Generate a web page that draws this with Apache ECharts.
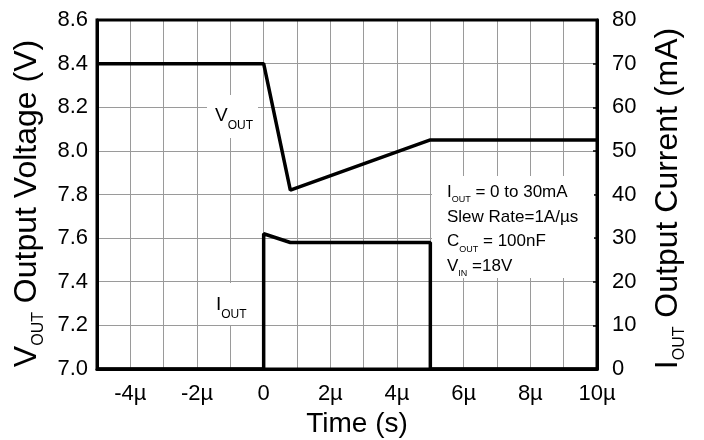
<!DOCTYPE html>
<html><head><meta charset="utf-8">
<script src="https://cdn.jsdelivr.net/npm/echarts@6/dist/echarts.min.js"></script>
<style>html,body{margin:0;padding:0;background:#fff}#c{width:704px;height:440px}</style>
</head><body><div id="c"></div>
<script>
// Data (time in microseconds)
const voutTime = [-5, 0, 0.8, 5, 10];
const voutVal  = [8.4, 8.4, 7.82, 8.05, 8.05];
const ioutTime = [-5, 0, 0, 0.8, 5, 5, 10];
const ioutVal  = [0, 0, 31, 29, 29, 0, 0];
const xMin = -5, xMax = 10, xStep = 1;
const vMin = 7.0, vMax = 8.6, vStep = 0.2;
const iMin = 0, iMax = 80, iStep = 10;

const FONT = 'Liberation Sans, Arial, Helvetica, sans-serif';
const chart = echarts.init(document.getElementById('c'));
const main = (fs, lh) => ({fontSize: fs, fontFamily: FONT, color: '#000', lineHeight: lh});
const sub = (fs, pad) => ({fontSize: fs, fontFamily: FONT, color: '#000', lineHeight: fs, padding: [pad, 0, 0, 0]});

chart.setOption({
  animation: false,
  backgroundColor: '#fff',
  grid: {left: 97, right: 107, top: 20, bottom: 71, outerBoundsMode: 'none', containLabel: false,
         show: true, borderColor: '#000', borderWidth: 3, backgroundColor: 'transparent', z: 3},
  xAxis: {
    type: 'value', min: xMin, max: xMax, interval: xStep,
    axisLine: {show: true, onZero: false, lineStyle: {color: '#000', width: 3}},
    axisTick: {show: false},
    splitLine: {show: true, lineStyle: {color: '#9a9a9a', width: 1}},
    axisLabel: {
      color: '#000', fontSize: 22, fontFamily: FONT, margin: 14,
      formatter: v => (Math.round(v) % 2 !== 0) ? '' : (v === 0 ? '0' : v + 'µ')
    },
    name: 'Time (s)', nameLocation: 'middle', nameGap: 32,
    nameTextStyle: {color: '#000', fontSize: 28, fontFamily: FONT, padding: [0, 0, 0, 20]}
  },
  yAxis: [{
    type: 'value', min: vMin, max: vMax, interval: vStep, position: 'left',
    axisLine: {show: true, onZero: false, lineStyle: {color: '#000', width: 3}},
    axisTick: {show: false},
    splitLine: {show: true, lineStyle: {color: '#9a9a9a', width: 1}},
    axisLabel: {color: '#000', fontSize: 22, fontFamily: FONT, margin: 9, formatter: v => v.toFixed(1)},
    name: '{m|V}{s|OUT}{m| Output Voltage (V)}', nameLocation: 'middle', nameRotate: 90, nameGap: 50,
    nameTextStyle: {padding: [0, 18, 0, 0], rich: {m: main(32, 36), s: sub(16, 23)}}
  }, {
    type: 'value', min: iMin, max: iMax, interval: iStep, position: 'right',
    axisLine: {show: true, onZero: false, lineStyle: {color: '#000', width: 3}},
    axisTick: {show: true, inside: true, length: 4, lineStyle: {color: '#000', width: 1.5}},
    splitLine: {show: false},
    axisLabel: {color: '#000', fontSize: 22, fontFamily: FONT, margin: 15},
    name: '{m|I}{s|OUT}{m| Output Current (mA)}', nameLocation: 'middle', nameRotate: 90, nameGap: 53,
    nameTextStyle: {padding: [0, 8, 0, 0], rich: {m: main(32, 36), s: sub(16, 23)}}
  }],
  graphic: [
    {type: 'rect', shape: {x: 432, y: 176, width: 162, height: 102}, style: {fill: '#fff'}, z: 1},
    {type: 'rect', shape: {x: 207, y: 95, width: 51, height: 43}, style: {fill: '#fff'}, z: 1},
    {type: 'rect', shape: {x: 207, y: 283, width: 44, height: 42}, style: {fill: '#fff'}, z: 1},
    {type: 'text', x: 215, y: 104, z: 5, style: {
      text: '{m|V}{s|OUT}', rich: {m: main(19, 23), s: sub(12, 21)}}},
    {type: 'text', x: 216, y: 293, z: 5, style: {
      text: '{m|I}{s|OUT}', rich: {m: main(19, 23), s: sub(12, 21)}}},
    {type: 'text', x: 447, y: 180, z: 5, style: {
      text: '{m|I}{s|OUT}{m| = 0 to 30mA}\n{m|Slew Rate=1A/µs}\n{m|C}{s|OUT}{m| = 100nF}\n{m|V}{s|IN}{m| =18V}',
      rich: {m: main(17, 24.7), s: sub(9, 15)}}}
  ],
  series: [{
    type: 'line', yAxisIndex: 0, symbol: 'none', z: 4,
    lineStyle: {color: '#000', width: 3.5},
    data: voutTime.map((t, i) => [t, voutVal[i]])
  }, {
    type: 'line', yAxisIndex: 1, symbol: 'none', z: 4,
    lineStyle: {color: '#000', width: 3.5},
    data: ioutTime.map((t, i) => [t, ioutVal[i]])
  }]
});
</script></body></html>
